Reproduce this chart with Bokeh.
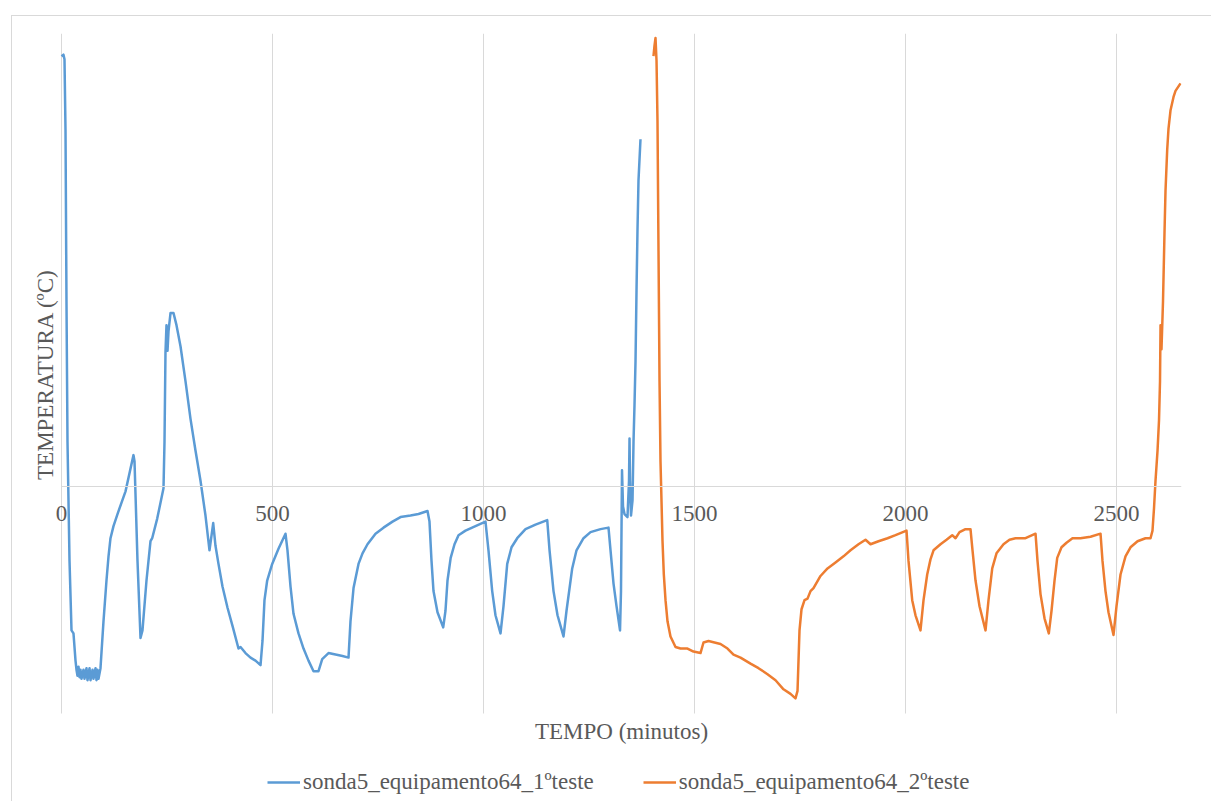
import math
from bokeh.plotting import figure
from bokeh.models import (Range1d, LinearAxis, FixedTicker, Legend, LegendItem, Label)
from bokeh.embed import file_html
from bokeh.resources import INLINE

# ---------------- data ----------------
x_ticks = [0, 500, 1000, 1500, 2000, 2500]
x_max = 2654
y_min, y_max = -15, 30

series1_name = "sonda5_equipamento64_1ºteste"
series1_t = [0, 4.7, 7.1, 9.5, 11.8, 14.2, 19.0, 23.7, 28.4, 33.2,
             35.5, 37.9, 40.3, 42.7, 45.0, 47.4, 52.1, 54.5, 59.2, 61.6,
             66.4, 68.7, 73.5, 75.8, 80.6, 82.9, 85.3, 87.7, 92.4, 99.5,
             106.6, 111.4, 116.1, 123.2, 132.7, 151.7, 170.6, 173.0, 180.1, 187.2,
             191.9, 201.4, 210.9, 214.9, 226.8, 241.7, 244.1, 246.4, 248.8, 251.2,
             253.6, 258.3, 265.4, 272.5, 282.0, 293.8, 305.7, 317.5, 329.4, 341.2,
             350.7, 359.5, 364.9, 372.0, 381.5, 393.4, 405.2, 419.4, 424.2, 436.0,
             447.9, 459.7, 471.6, 476.3, 481.0, 487.4, 499.3, 514.2, 530.8, 535.5,
             542.7, 549.8, 561.6, 573.5, 585.3, 597.2, 609.0, 617.8, 632.7, 649.3,
             665.9, 680.1, 684.8, 692.0, 703.8, 713.3, 725.1, 744.1, 763.0, 784.4,
             803.3, 827.0, 846.0, 867.3, 872.0, 876.8, 881.5, 891.0, 904.5, 909.9,
             914.7, 922.2, 931.3, 940.8, 957.3, 981.0, 1004.7, 1011.8, 1020.6, 1028.4,
             1040.3, 1047.4, 1056.2, 1066.4, 1079.9, 1099.5, 1123.2, 1151.0, 1156.5, 1165.9,
             1175.4, 1189.6, 1196.7, 1210.2, 1220.4, 1237.0, 1253.6, 1277.3, 1296.2, 1301.0,
             1308.1, 1315.2, 1323.5, 1325.8, 1328.2, 1330.6, 1334.1, 1341.2, 1344.8, 1346.0,
             1347.2, 1349.5, 1353.1, 1355.5, 1357.8, 1360.2, 1362.6, 1364.9, 1367.3, 1372.0]
series1_temp = [28.5, 28.6, 28.3, 23.6, 12.3, 3.0, -4.9, -9.5, -9.7, -11.5,
                -12.1, -12.5, -11.9, -12.6, -12.1, -12.7, -12.1, -12.7, -12.0, -12.8,
                -12.0, -12.8, -12.1, -12.7, -12.0, -12.8, -12.1, -12.7, -12.0, -8.9,
                -6.2, -4.6, -3.4, -2.6, -1.8, -0.3, 2.1, 1.7, -4.9, -10.0,
                -9.5, -6.2, -3.6, -3.4, -2.1, -0.1, 3.0, 8.9, 10.7, 9.0,
                10.3, 11.5, 11.5, 10.7, 9.3, 7.0, 4.5, 2.4, 0.4, -1.9,
                -4.2, -2.4, -3.9, -5.1, -6.6, -8.0, -9.2, -10.7, -10.6, -11.0,
                -11.3, -11.5, -11.8, -10.2, -7.5, -6.2, -5.1, -4.1, -3.1, -4.2,
                -6.6, -8.4, -9.7, -10.7, -11.5, -12.2, -12.2, -11.4, -11.0, -11.1,
                -11.2, -11.3, -8.9, -6.7, -5.1, -4.4, -3.8, -3.1, -2.7, -2.3,
                -2.0, -1.9, -1.8, -1.6, -2.3, -4.9, -6.9, -8.3, -9.3, -8.2,
                -6.2, -4.7, -3.8, -3.2, -2.9, -2.6, -2.3, -4.2, -6.9, -8.5,
                -9.7, -7.9, -5.1, -4.0, -3.4, -2.8, -2.5, -2.2, -4.2, -6.9,
                -8.5, -9.9, -8.2, -5.4, -4.2, -3.4, -3.0, -2.8, -2.7, -4.2,
                -6.4, -7.9, -9.5, -6.9, 1.1, -1.3, -1.8, -2.0, 0.4, 3.2,
                0.4, -1.9, -0.9, 3.0, 5.4, 8.3, 13.0, 17.0, 20.3, 23.0]

series2_name = "sonda5_equipamento64_2ºteste"
series2_t = [1402.8, 1405.2, 1407.6, 1410.0, 1412.3, 1414.7, 1417.1, 1419.4, 1424.2, 1427.3,
             1431.3, 1436.0, 1443.1, 1455.0, 1466.8, 1483.4, 1497.6, 1514.2, 1521.3, 1533.2,
             1547.4, 1561.6, 1578.2, 1592.4, 1609.0, 1632.7, 1651.7, 1673.0, 1692.0, 1710.9,
             1727.5, 1739.3, 1744.1, 1748.8, 1753.6, 1760.7, 1767.8, 1774.9, 1782.0, 1798.6,
             1815.2, 1834.1, 1853.1, 1869.7, 1888.6, 1905.2, 1917.1, 1936.0, 1957.4, 1976.3,
             2002.4, 2007.1, 2015.9, 2023.7, 2035.5, 2042.7, 2051.4, 2059.2, 2066.4, 2082.9,
             2097.2, 2110.7, 2118.5, 2128.0, 2142.2, 2154.0, 2158.8, 2165.9, 2175.4, 2189.6,
             2196.7, 2205.5, 2215.6, 2232.2, 2246.4, 2260.7, 2284.4, 2308.1, 2312.8, 2319.9,
             2329.4, 2339.6, 2346.0, 2353.1, 2359.5, 2369.7, 2381.5, 2395.7, 2414.7, 2438.4,
             2462.1, 2466.8, 2473.9, 2481.0, 2492.9, 2500.0, 2509.5, 2521.3, 2533.2, 2549.8,
             2568.7, 2580.6, 2585.3, 2588.9, 2592.4, 2597.2, 2600.7, 2603.1, 2604.3, 2606.6,
             2610.2, 2613.7, 2616.1, 2620.1, 2623.2, 2627.9, 2635.1, 2639.8, 2646.9, 2651.7]
series2_temp = [28.5, 29.2, 29.7, 28.2, 24.2, 15.6, 7.0, 1.7, -3.6, -5.8,
                -7.5, -8.9, -9.9, -10.6, -10.7, -10.7, -10.9, -11.0, -10.3, -10.2,
                -10.3, -10.4, -10.7, -11.1, -11.3, -11.7, -12.0, -12.4, -12.8, -13.4,
                -13.7, -14.0, -13.5, -9.5, -8.1, -7.5, -7.4, -6.9, -6.7, -5.9,
                -5.4, -5.0, -4.6, -4.2, -3.8, -3.5, -3.8, -3.6, -3.4, -3.2,
                -2.9, -4.9, -7.5, -8.5, -9.5, -7.5, -5.8, -4.8, -4.2, -3.8,
                -3.5, -3.2, -3.4, -3.0, -2.8, -2.8, -4.2, -6.2, -7.9, -9.5,
                -7.5, -5.4, -4.4, -3.8, -3.5, -3.4, -3.4, -3.1, -4.9, -7.1,
                -8.7, -9.7, -8.2, -6.2, -4.7, -4.0, -3.7, -3.4, -3.4, -3.3,
                -3.1, -4.9, -6.9, -8.3, -9.8, -7.9, -5.8, -4.6, -4.0, -3.6,
                -3.4, -3.4, -2.9, -1.4, 0.4, 2.4, 4.4, 7.0, 10.7, 9.1,
                12.3, 16.8, 19.6, 22.3, 23.7, 24.9, 25.8, 26.2, 26.5, 26.7]

x_title = "TEMPO (minutos)"
y_title = "TEMPERATURA (ºC)"

# ---------------- layout / styling ----------------
FONT = "Liberation Serif"
FS = "23px"
TXT = "#595959"
GRID = "#d9d9d9"
BLUE = "#5B9BD5"
ORANGE = "#ED7D31"

# page pixels: plot area 61..1181 x 33..713; frame extended down/left to hold titles & legend
PA_L, PA_R, PA_T, PA_B = 61, 1181, 33, 713
FR_L, FR_B = 20, 800
kx = (PA_R - PA_L) / x_max            # px per minute
ky = (PA_B - PA_T) / (y_max - y_min)  # px per degree
x_start = -(PA_L - FR_L) / kx
y_start = y_min - (FR_B - PA_B) / ky

FIG_L, FIG_T = 12, 16
p = figure(width=1211 - FIG_L, height=801 - FIG_T,
           x_range=Range1d(x_start, x_max), y_range=Range1d(y_start, y_max),
           x_axis_location=None, y_axis_location=None,
           output_backend="svg", toolbar_location=None,
           min_border_left=FR_L - FIG_L, min_border_right=1211 - PA_R,
           min_border_top=PA_T - FIG_T, min_border_bottom=801 - FR_B)
p.margin = (FIG_T, 0, 0, FIG_L)
p.styles = {"outline": "1px solid #d9d9d9"}
p.outline_line_color = None
p.background_fill_color = "white"
p.border_fill_color = "white"
p.xgrid.visible = False
p.ygrid.visible = False

# vertical gridlines, limited to the plot area
p.segment(x0=x_ticks, y0=[y_min] * len(x_ticks), x1=x_ticks, y1=[y_max] * len(x_ticks),
          line_color=GRID, line_width=1)

r1 = p.line(series1_t, series1_temp, line_color=BLUE, line_width=2.5, line_join="round")
r2 = p.line(series2_t, series2_temp, line_color=ORANGE, line_width=2.5, line_join="round")

# horizontal axis crossing at 0 °C, with its tick labels
xa = LinearAxis(ticker=FixedTicker(ticks=x_ticks), fixed_location=0, bounds=(0, x_max),
                axis_line_color=GRID, axis_line_width=1,
                major_tick_line_color=None, minor_tick_line_color=None,
                major_tick_out=0, major_tick_in=0, minor_tick_out=0, minor_tick_in=0,
                major_label_text_font=FONT, major_label_text_font_size=FS,
                major_label_text_color=TXT, major_label_standoff=19)
p.add_layout(xa, "below")

# axis titles
p.add_layout(Label(x=x_max / 2, y=y_min - (731 - PA_B) / ky, text=x_title,
                   text_font=FONT, text_font_size=FS, text_color=TXT,
                   text_align="center", text_baseline="middle"))
p.add_layout(Label(x=-(PA_L - 45) / kx, y=y_max - (374 - PA_T) / ky, text=y_title,
                   angle=math.pi / 2, text_font=FONT, text_font_size=FS, text_color=TXT,
                   text_align="center", text_baseline="middle"))

legend = Legend(items=[LegendItem(label=series1_name, renderers=[r1]),
                       LegendItem(label=series2_name, renderers=[r2])],
                orientation="horizontal", location=(247, 5),
                border_line_color=None, background_fill_alpha=0,
                label_text_font=FONT, label_text_font_size=FS,
                label_text_color=TXT, glyph_width=33, glyph_height=20,
                label_standoff=3, spacing=49, padding=0, margin=0)
p.add_layout(legend, "center")

open("out.html", "w").write(file_html(p, INLINE))
